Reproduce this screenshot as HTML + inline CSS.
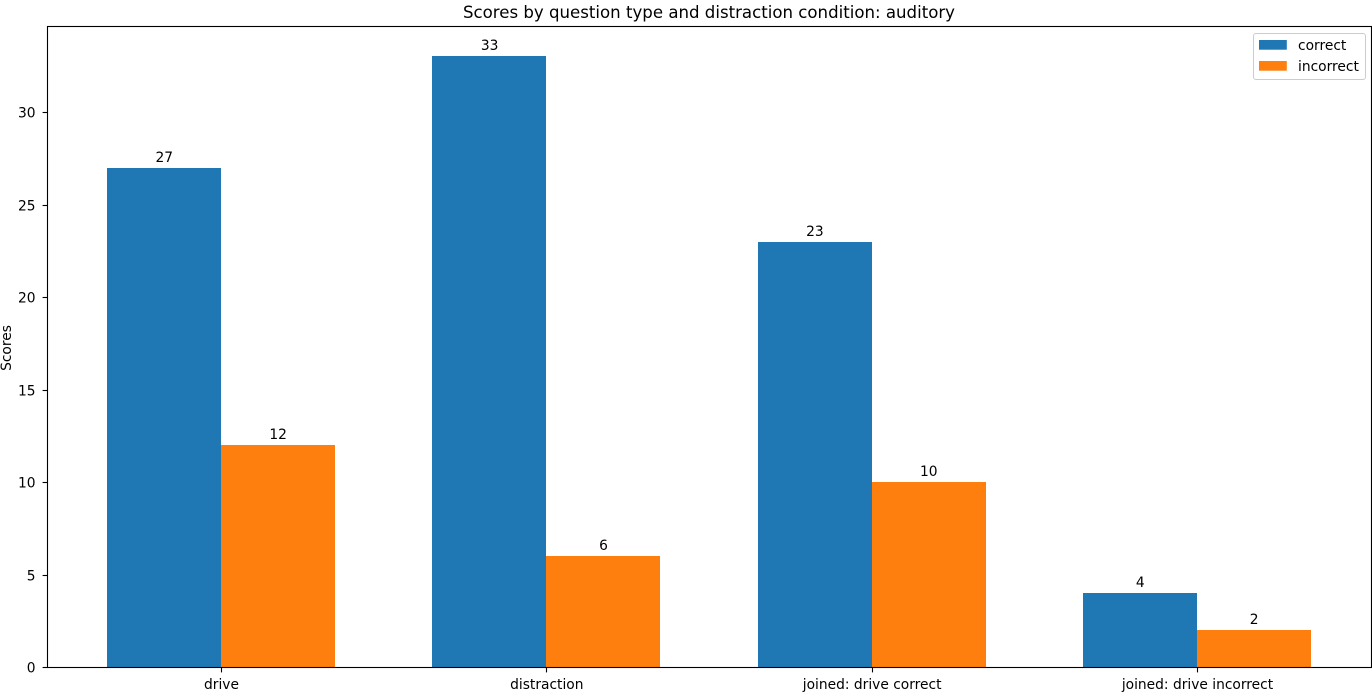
<!DOCTYPE html>
<html>
<head>
<meta charset="utf-8">
<title>Scores by question type and distraction condition: auditory</title>
<style>
html,body{margin:0;padding:0;background:#fff;width:1372px;height:699px;overflow:hidden}
svg{display:block}
text{font-family:"DejaVu Sans",sans-serif;font-size:13.8px;fill:#000}
</style>
</head>
<body>
<svg id="chart" width="1372" height="699" viewBox="0 0 1372 699" xmlns="http://www.w3.org/2000/svg">
  <rect x="0" y="0" width="1372" height="699" fill="#fff"/>
  <g id="marks"></g>
  <g id="ticks"></g>
  <rect x="47.5" y="26.5" width="1324" height="641" fill="none" stroke="#000" stroke-width="1.1"/>
  <text x="709" y="18" text-anchor="middle" style="font-size:16.6px">Scores by question type and distraction condition: auditory</text>
  <text transform="translate(11,348) rotate(-90)" text-anchor="middle">Scores</text>
  <g>
    <rect x="1253.5" y="33.5" width="112" height="46" rx="2.5" fill="#fff" fill-opacity="0.8" stroke="#ccc" stroke-width="1"/>
    <rect x="1259" y="40" width="27.8" height="9.7" fill="#1f77b4"/>
    <text x="1298" y="50">correct</text>
    <rect x="1259" y="61" width="27.8" height="9.7" fill="#ff7f0e"/>
    <text x="1298" y="71">incorrect</text>
  </g>
</svg>
<script>
const categories = ["drive", "distraction", "joined: drive correct", "joined: drive incorrect"];
const correctValues = [27, 33, 23, 4];
const incorrectValues = [12, 6, 10, 2];
const yTickLabels = [0, 5, 10, 15, 20, 25, 30];

const NS = "http://www.w3.org/2000/svg";
const barFraction = 0.35;
const xUnit = 325.33;
const xZero = 221;
const yUnit = 18.51;
const yZero = 667.3;
function xScale(i) { return xZero + i * xUnit; }
function yScale(v) { return yZero - v * yUnit; }

function make(tag, attrs, parent, content) {
  const el = document.createElementNS(NS, tag);
  for (const k in attrs) el.setAttribute(k, attrs[k]);
  if (content !== undefined) el.textContent = content;
  parent.appendChild(el);
  return el;
}

const marks = document.getElementById("marks");
const ticks = document.getElementById("ticks");
const barPixelWidth = barFraction * xUnit;

function drawSeries(values, color, offsetSign, seriesName) {
  values.forEach(function (v, i) {
    const left = offsetSign < 0 ? xScale(i) - barPixelWidth : xScale(i);
    const x0 = Math.round(left);
    const x1 = Math.round(left + barPixelWidth);
    const y0 = Math.round(yScale(v));
    const y1 = Math.round(yScale(0));
    const bar = make("rect", { x: x0, y: y0, width: x1 - x0, height: y1 - y0, fill: color, "shape-rendering": "crispEdges" }, marks);
    
    
    bar.setAttribute('aria-label', seriesName + ' ' + categories[i]);
    const label = make("text", { x: left + barPixelWidth / 2 + 0.2, y: y0 - 6, "text-anchor": "middle" }, marks, String(v));
    
    
  });
}
drawSeries(correctValues, "#1f77b4", -1, "correct");
drawSeries(incorrectValues, "#ff7f0e", 1, "incorrect");

categories.forEach(function (c, i) {
  const px = Math.round(xScale(i)) + 0.5;
  const tick = make("line", { x1: px, x2: px, y1: 667.5, y2: 672.4, stroke: "#000", "stroke-width": 1.1 }, ticks);
  
  
  const label = make("text", { x: xScale(i) + 0.5, y: 689, "text-anchor": "middle" }, ticks, c);
  
  
});

yTickLabels.forEach(function (v) {
  const py = Math.round(yScale(v)) + 0.5;
  const tick = make("line", { x1: 42.6, x2: 47.5, y1: py, y2: py, stroke: "#000", "stroke-width": 1.1 }, ticks);
  
  
  const label = make("text", { x: 35.5, y: py + 5, "text-anchor": "end" }, ticks, String(v));
  
  
});
</script>
</body>
</html>
